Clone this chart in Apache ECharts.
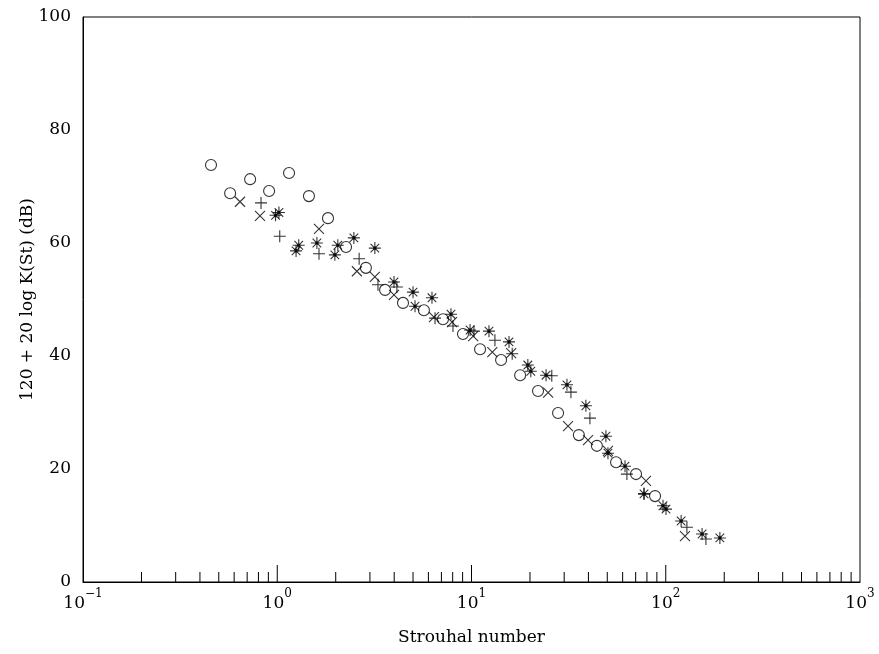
<!DOCTYPE html>
<html>
<head>
<meta charset="utf-8">
<script src="https://cdn.jsdelivr.net/npm/echarts@6/dist/echarts.min.js"></script>
<style>
html, body { margin: 0; padding: 0; background: #fff; }
#chart { width: 879px; height: 654px; }
</style>
</head>
<body>
<div id="chart"></div>
<script>
// Strouhal number vs 120 + 20 log K(St)
const circlePoints = [
  [0.456, 73.8], [0.572, 68.8], [0.725, 71.3], [0.908, 69.2], [1.15, 72.4], [1.456, 68.3],
  [1.825, 64.4], [2.26, 59.3], [2.86, 55.6], [3.59, 51.7], [4.44, 49.4], [5.69, 48.1],
  [7.13, 46.5], [9.04, 43.9], [11.07, 41.2], [14.2, 39.3], [17.8, 36.6], [22.0, 33.8],
  [27.9, 29.9], [35.7, 26.0], [44.2, 24.1], [55.5, 21.2], [70.3, 19.1], [88.1, 15.2]
]
const crossPoints = [
  [0.643, 67.3], [0.815, 64.8], [1.64, 62.5], [2.57, 55.0], [3.18, 54.0], [3.99, 50.8],
  [6.41, 46.9], [7.94, 46.0], [10.2, 43.5], [12.8, 40.7], [16.0, 40.5], [24.8, 33.5],
  [31.4, 27.6], [39.8, 25.1], [50.4, 23.2], [79.1, 17.9], [125.6, 8.1]
]
const plusPoints = [
  [0.825, 67.1], [1.03, 61.2], [1.64, 58.1], [2.64, 57.2], [3.30, 52.6], [4.13, 52.2],
  [6.49, 46.7], [8.03, 45.3], [10.3, 44.4], [13.2, 42.8], [16.2, 40.4], [25.9, 36.5],
  [32.5, 33.6], [40.7, 29.0], [63.1, 19.1], [77.3, 15.6], [128.5, 9.7], [161, 7.6]
]
const starPoints = [
  [0.98, 64.9], [1.02, 65.4], [1.25, 58.6], [1.29, 59.6], [1.60, 60.0], [1.98, 57.9],
  [2.05, 59.6], [2.48, 60.9], [3.18, 59.1], [3.99, 53.1], [5.00, 51.3], [5.12, 48.8],
  [6.26, 50.3], [7.84, 47.4], [9.83, 44.6], [12.3, 44.4], [15.6, 42.5], [19.5, 38.4],
  [20.2, 37.3], [24.2, 36.6], [31.0, 34.9], [38.8, 31.2], [49.2, 25.8], [50.4, 22.8],
  [61.7, 20.5], [77.3, 15.6], [96.8, 13.5], [100.3, 12.9], [120, 10.8], [153.8, 8.5], [190, 7.8]
]
// bottom axis ticks: decades (long) and 2..9 in each decade (short)
const majorTicks = [1, 10, 100]
const minorTicks = [
  0.2, 0.3, 0.4, 0.5, 0.6, 0.7, 0.8, 0.9,
  2, 3, 4, 5, 6, 7, 8, 9,
  20, 30, 40, 50, 60, 70, 80, 90,
  200, 300, 400, 500, 600, 700, 800, 900
]

const font = 'DejaVu Serif'

const chart = echarts.init(document.getElementById('chart'))

const markStyle = (fill) => ({
  color: fill,
  borderColor: '#000',
  borderWidth: 1.1
})

// tick marks drawn upward from the x axis, value -> pixel through the axis scale
const tickSeries = (values, len) => ({
  type: 'custom',
  silent: true,
  clip: false,
  data: values.map(v => [v, 0]),
  encode: { x: 0, y: 1 },
  renderItem: (params, api) => {
    const p = api.coord([api.value(0), 0])
    return {
      type: 'line',
      shape: { x1: p[0], y1: p[1], x2: p[0], y2: p[1] - len },
      style: { stroke: '#000', lineWidth: 1 }
    }
  }
})

const option = {
  animation: false,
  backgroundColor: '#fff',
  grid: {
    left: 83, top: 17, right: 19, bottom: 72,
    show: true, borderColor: '#000', borderWidth: 1
  },
  xAxis: {
    type: 'log',
    logBase: 10,
    min: 0.1,
    max: 1000,
    name: 'Strouhal number',
    nameLocation: 'middle',
    nameGap: 47,
    nameMoveOverlap: false,
    nameTextStyle: { fontFamily: font, fontSize: 17, color: '#000' },
    axisLine: { lineStyle: { color: '#000', width: 1 } },
    axisTick: { show: false },
    splitLine: { show: false },
    axisLabel: {
      margin: 6,
      color: '#000',
      formatter: (v) => {
        const e = Math.round(Math.log10(v))
        return '{b|10}{s|' + (e < 0 ? '\u2212' + (-e) : e) + '}'
      },
      rich: {
        b: { fontFamily: font, fontSize: 17, lineHeight: 24, verticalAlign: 'bottom', color: '#000' },
        s: { fontFamily: font, fontSize: 12, lineHeight: 14, verticalAlign: 'top', color: '#000' }
      }
    }
  },
  yAxis: {
    type: 'value',
    min: 0,
    max: 100,
    interval: 20,
    name: '120 + 20 log K(St) (dB)',
    nameLocation: 'middle',
    nameGap: 47,
    nameMoveOverlap: false,
    nameTextStyle: { fontFamily: font, fontSize: 17, color: '#000' },
    axisLine: { show: true, lineStyle: { color: '#000', width: 1 } },
    axisTick: { show: false },
    splitLine: { show: false },
    axisLabel: { margin: 12, fontFamily: font, fontSize: 17, color: '#000' }
  },
  series: [
    tickSeries(majorTicks, 17),
    tickSeries(minorTicks, 10),
    {
      name: 'circle',
      type: 'scatter',
      data: circlePoints,
      symbol: 'circle',
      symbolSize: 11,
      itemStyle: markStyle('rgba(0,0,0,0)')
    },
    {
      name: 'cross',
      type: 'scatter',
      data: crossPoints,
      symbol: 'path://M-5,-5L5,5M-5,5L5,-5',
      symbolSize: 10,
      itemStyle: markStyle('#000')
    },
    {
      name: 'plus',
      type: 'scatter',
      data: plusPoints,
      symbol: 'path://M0,-6L0,6M-6,0L6,0',
      symbolSize: 12,
      itemStyle: markStyle('#000')
    },
    {
      name: 'star',
      type: 'scatter',
      data: starPoints,
      symbol: 'path://M0,-6L0,6M-6,0L6,0M-4.3,-4.3L4.3,4.3M-4.3,4.3L4.3,-4.3M-1.3,-1.3L1.3,-1.3L1.3,1.3L-1.3,1.3Z',
      symbolSize: 12,
      itemStyle: markStyle('#000')
    }
  ]
}

chart.setOption(option)
</script>
</body>
</html>
